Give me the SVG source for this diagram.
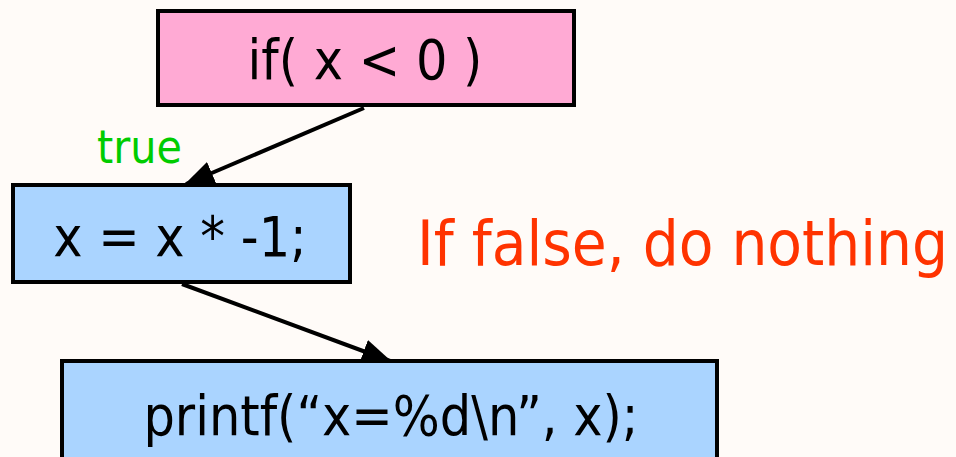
<svg xmlns="http://www.w3.org/2000/svg" width="956" height="457" viewBox="0 0 956 457">
<style>
.box{stroke:#000;stroke-width:4}
.pink{fill:#ffaad4}
.blue{fill:#aad4ff}
text{font-family:"DejaVu Sans Condensed","DejaVu Sans",sans-serif;font-stretch:condensed}
.code{font-size:55px;fill:#000;text-anchor:middle}
.edge{stroke:#000;stroke-width:4;fill:none}
</style>
<defs>
<marker id="arr" viewBox="0 0 30 30" refX="28" refY="15" markerWidth="30" markerHeight="30" markerUnits="userSpaceOnUse" orient="auto">
<path d="M0,3 L30,15 L0,27 z" fill="#000"/>
</marker>
</defs>
<rect width="956" height="457" fill="#fffbf8"/>
<g id="connectors">
<line class="edge" x1="364" y1="108" x2="186" y2="184" marker-end="url(#arr)"/>
<line class="edge" x1="182" y1="284" x2="390" y2="361" marker-end="url(#arr)"/>
</g>
<g id="node-if">
<rect class="box pink" x="158" y="11" width="416" height="94"/>
<text class="code" x="365" y="79">if( x &lt; 0 )</text>
</g>
<g id="node-assign">
<rect class="box blue" x="13" y="185" width="337" height="97"/>
<text class="code" x="180" y="256">x = x * -1;</text>
</g>
<g id="node-printf">
<rect class="box blue" x="62" y="361" width="655" height="100"/>
<text class="code" x="391" y="435">printf(“x=%d\n”, x);</text>
</g>
<g id="label-true">
<text x="97" y="163" font-size="46" fill="#00cc00">true</text>
</g>
<g id="note">
<text x="417" y="265" font-size="63" fill="#ff3300" textLength="531" lengthAdjust="spacingAndGlyphs">If false, do nothing</text>
</g>
</svg>
